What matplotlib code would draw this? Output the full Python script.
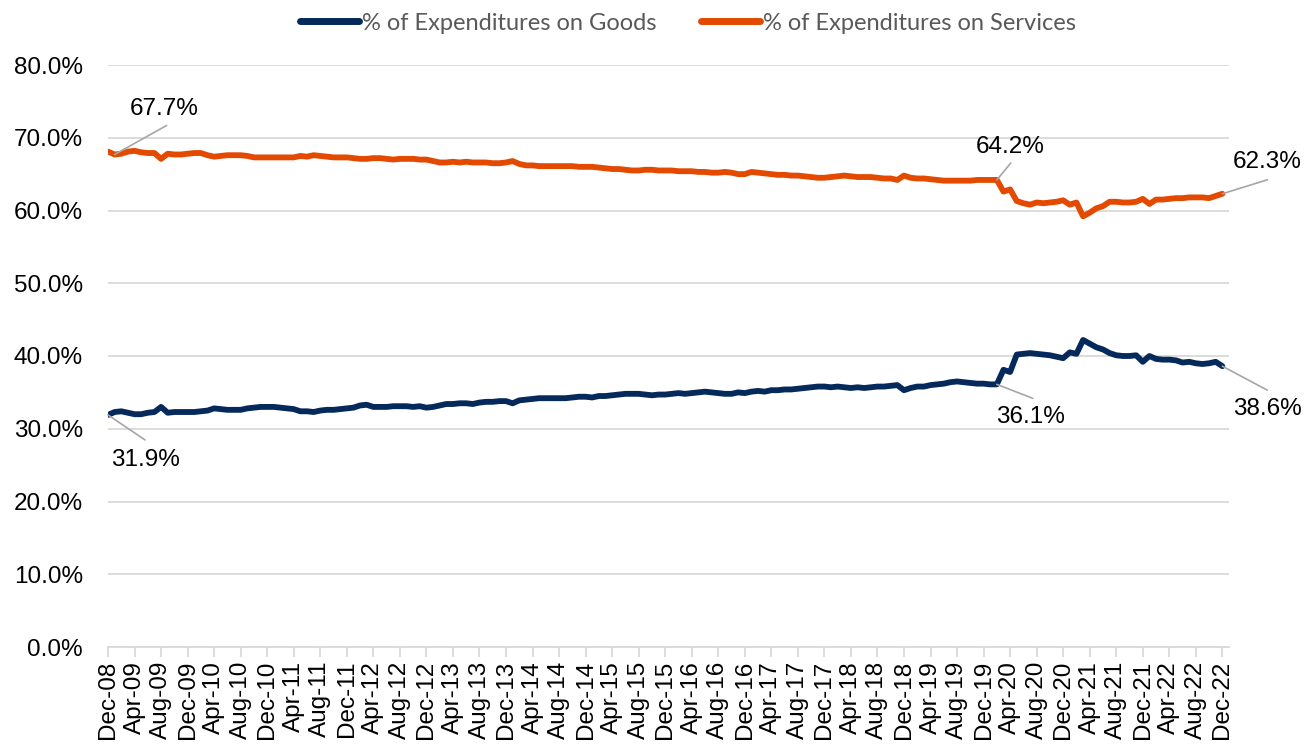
"""
Goods vs services share of consumer expenditures, Dec-08 to Dec-22 (monthly).
Writes out.png.
"""

import matplotlib
matplotlib.use('Agg')
import matplotlib.pyplot as plt
from matplotlib.lines import Line2D
from matplotlib.ticker import FuncFormatter, MultipleLocator
import pandas as pd

# ── Data (monthly, starting Dec-08) ───────────────────────────────────────────
start_month = '2008-12-01'

goods_pct = [
    31.9, 32.3, 32.4, 32.2, 32.0, 32.0, 32.2, 32.3, 33.0, 32.2, 32.3, 32.3,   # Dec08-Nov09
    32.3, 32.3, 32.4, 32.5, 32.8, 32.7, 32.6, 32.6, 32.6, 32.8, 32.9, 33.0,   # Dec09-Nov10
    33.0, 33.0, 32.9, 32.8, 32.7, 32.4, 32.4, 32.3, 32.5, 32.6, 32.6, 32.7,   # Dec10-Nov11
    32.8, 32.9, 33.2, 33.3, 33.0, 33.0, 33.0, 33.1, 33.1, 33.1, 33.0, 33.1,   # Dec11-Nov12
    32.9, 33.0, 33.2, 33.4, 33.4, 33.5, 33.5, 33.4, 33.6, 33.7, 33.7, 33.8,   # Dec12-Nov13
    33.8, 33.5, 33.9, 34.0, 34.1, 34.2, 34.2, 34.2, 34.2, 34.2, 34.3, 34.4,   # Dec13-Nov14
    34.4, 34.3, 34.5, 34.5, 34.6, 34.7, 34.8, 34.8, 34.8, 34.7, 34.6, 34.7,   # Dec14-Nov15
    34.7, 34.8, 34.9, 34.8, 34.9, 35.0, 35.1, 35.0, 34.9, 34.8, 34.8, 35.0,   # Dec15-Nov16
    34.9, 35.1, 35.2, 35.1, 35.3, 35.3, 35.4, 35.4, 35.5, 35.6, 35.7, 35.8,   # Dec16-Nov17
    35.8, 35.7, 35.8, 35.7, 35.6, 35.7, 35.6, 35.7, 35.8, 35.8, 35.9, 36.0,   # Dec17-Nov18
    35.3, 35.6, 35.8, 35.8, 36.0, 36.1, 36.2, 36.4, 36.5, 36.4, 36.3, 36.2,   # Dec18-Nov19
    36.2, 36.1, 36.1, 38.1, 37.8, 40.2, 40.3, 40.4, 40.3, 40.2, 40.1, 39.9,   # Dec19-Nov20
    39.7, 40.5, 40.3, 42.2, 41.7, 41.2, 40.9, 40.4, 40.1, 40.0, 40.0, 40.1,   # Dec20-Nov21
    39.2, 40.0, 39.6, 39.5, 39.5, 39.4, 39.1, 39.2, 39.0, 38.9, 39.0, 39.2,   # Dec21-Nov22
    38.6,                                                                     # Dec22
]

services_pct = [
    68.1, 67.7, 67.8, 68.1, 68.2, 68.0, 67.9, 67.9, 67.1, 67.8, 67.7, 67.7,
    67.8, 67.9, 67.9, 67.6, 67.4, 67.5, 67.6, 67.6, 67.6, 67.5, 67.3, 67.3,
    67.3, 67.3, 67.3, 67.3, 67.3, 67.5, 67.4, 67.6, 67.5, 67.4, 67.3, 67.3,
    67.3, 67.2, 67.1, 67.1, 67.2, 67.2, 67.1, 67.0, 67.1, 67.1, 67.1, 67.0,
    67.0, 66.8, 66.6, 66.6, 66.7, 66.6, 66.7, 66.6, 66.6, 66.6, 66.5, 66.5,
    66.6, 66.8, 66.4, 66.2, 66.2, 66.1, 66.1, 66.1, 66.1, 66.1, 66.1, 66.0,
    66.0, 66.0, 65.9, 65.8, 65.7, 65.7, 65.6, 65.5, 65.5, 65.6, 65.6, 65.5,
    65.5, 65.5, 65.4, 65.4, 65.4, 65.3, 65.3, 65.2, 65.2, 65.3, 65.2, 65.0,
    65.0, 65.3, 65.2, 65.1, 65.0, 64.9, 64.9, 64.8, 64.8, 64.7, 64.6, 64.5,
    64.5, 64.6, 64.7, 64.8, 64.7, 64.6, 64.6, 64.6, 64.5, 64.4, 64.4, 64.2,
    64.8, 64.5, 64.4, 64.4, 64.3, 64.2, 64.1, 64.1, 64.1, 64.1, 64.1, 64.2,
    64.2, 64.2, 64.2, 62.6, 62.9, 61.3, 61.0, 60.8, 61.1, 61.0, 61.1, 61.2,
    61.4, 60.8, 61.1, 59.2, 59.7, 60.3, 60.6, 61.2, 61.2, 61.1, 61.1, 61.2,
    61.6, 60.9, 61.5, 61.5, 61.6, 61.7, 61.7, 61.8, 61.8, 61.8, 61.7, 62.0,
    62.3,
]

series_names = ['% of Expenditures on Goods', '% of Expenditures on Services']

# callouts: (series, month index, leader end offset px, text offset px)
callouts = [
    ('services', 1,   (52, 29),  (50, 45)),
    ('services', 134, (14, 17),  (13, 33)),
    ('services', 168, (45, 14),  (45, 32)),
    ('goods',    0,   (37, -25), (37, -45)),
    ('goods',    134, (36, -14), (34, -33)),
    ('goods',    168, (45, -24), (45, -43)),
]

GOODS_COLOR = '#04295a'
SERVICES_COLOR = '#e34a00'
GRID_COLOR = '#d9d9d9'
TEXT_COLOR = '#000000'


def main():
    plt.rcParams['font.family'] = ['Liberation Sans', 'DejaVu Sans']

    months = pd.date_range(start_month, periods=len(goods_pct), freq='MS')
    labels = [m.strftime('%b-%y') for m in months]
    x = list(range(len(months)))
    series = {'goods': goods_pct, 'services': services_pct}

    fig = plt.figure(figsize=(13.09, 7.47), dpi=100, facecolor='white')
    ax = fig.add_axes([108 / 1309, 1 - 647 / 747, 1121 / 1309, 582 / 747])

    # ── Lines ─────────────────────────────────────────────────────────────────
    ax.plot(x, goods_pct, color=GOODS_COLOR, linewidth=4.2,
            solid_joinstyle='round', solid_capstyle='round', zorder=3)
    ax.plot(x, services_pct, color=SERVICES_COLOR, linewidth=4.2,
            solid_joinstyle='round', solid_capstyle='round', zorder=3)

    # ── Axes ──────────────────────────────────────────────────────────────────
    ax.set_ylim(0, 80)
    ax.set_xlim(0, len(months))
    ax.yaxis.set_major_locator(MultipleLocator(10))
    ax.yaxis.set_major_formatter(FuncFormatter(lambda v, _: f'{v:.1f}%'))
    ax.grid(axis='y', color=GRID_COLOR, linewidth=1.3, zorder=0)
    ax.set_axisbelow(True)

    ticks = x[::4]
    ax.set_xticks(ticks)
    ax.set_xticklabels([labels[i] for i in ticks], rotation=90)

    ax.tick_params(axis='y', length=0, pad=18, labelsize=17.5, colors=TEXT_COLOR)
    ax.tick_params(axis='x', length=7, width=1.3, color=GRID_COLOR, pad=3,
                   labelsize=17.5, labelcolor=TEXT_COLOR)
    for side in ('left', 'right', 'top'):
        ax.spines[side].set_visible(False)
    ax.spines['bottom'].set_color(GRID_COLOR)
    ax.spines['bottom'].set_linewidth(1.3)

    # ── Callouts ──────────────────────────────────────────────────────────────
    for key, i, leader, text_off in callouts:
        val = series[key][i]
        ax.annotate('', xy=(i, val), xytext=leader, textcoords='offset pixels',
                    arrowprops=dict(arrowstyle='-', color='#a6a6a6', lw=1.2,
                                    shrinkA=0, shrinkB=0), zorder=4)
        ax.annotate(f'{val:.1f}%', xy=(i, val), xytext=text_off,
                    textcoords='offset pixels', ha='center', va='center',
                    fontsize=17.5, color=TEXT_COLOR, annotation_clip=False)

    # ── Legend ────────────────────────────────────────────────────────────────
    handles = [
        Line2D([], [], color=GOODS_COLOR, linewidth=5, solid_capstyle='round'),
        Line2D([], [], color=SERVICES_COLOR, linewidth=5, solid_capstyle='round'),
    ]
    fig.legend(handles, series_names, loc='center', ncol=2,
               bbox_to_anchor=(688 / 1309, 1 - 23 / 747), frameon=False,
               prop={'family': ['Lato', 'DejaVu Sans'], 'size': 17},
               labelcolor='#595959', handlelength=2.5, handletextpad=0.1,
               columnspacing=1.9)

    fig.savefig('out.png', dpi=100, facecolor='white')


if __name__ == '__main__':
    main()
